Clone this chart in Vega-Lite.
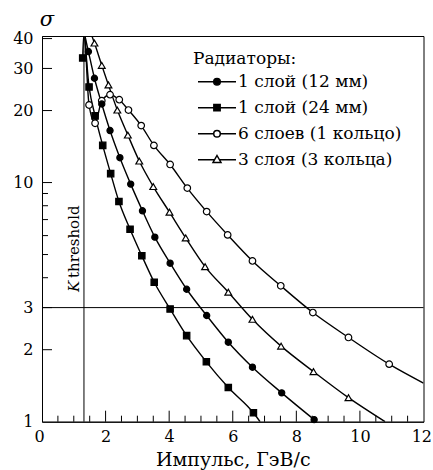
{
  "$schema": "https://vega.github.io/schema/vega-lite/v6.json",
  "width": 381.5,
  "height": 385.7,
  "autosize": {"type": "none"},
  "padding": {"left": 42, "top": 36, "right": 9.5, "bottom": 48.3},
  "background": "white",
  "config": {
    "view": {"stroke": "black", "strokeWidth": 1},
    "font": "DejaVu Serif",
    "axis": {
      "grid": false,
      "ticks": false,
      "domainColor": "black",
      "domainWidth": 1,
      "labelColor": "black",
      "labelFont": "DejaVu Serif",
      "labelFontSize": 16,
      "titleColor": "black",
      "titleFont": "DejaVu Serif",
      "titleFontWeight": "normal",
      "labelOverlap": false,
      "labelBound": false
    },
    "legend": {
      "titleFont": "DejaVu Serif",
      "titleFontWeight": "normal",
      "titleFontSize": 17,
      "titleColor": "black",
      "labelFont": "DejaVu Serif",
      "labelFontSize": 17,
      "labelColor": "black",
      "labelLimit": 0
    }
  },
  "datasets": {
    "curves": [
      {"series": "1 слой (12 мм)", "momentum": 1.35, "sigma": 41},
      {"series": "1 слой (12 мм)", "momentum": 1.46, "sigma": 35.3},
      {"series": "1 слой (12 мм)", "momentum": 1.65, "sigma": 27.3},
      {"series": "1 слой (12 мм)", "momentum": 1.88, "sigma": 21.3},
      {"series": "1 слой (12 мм)", "momentum": 2.14, "sigma": 16.5},
      {"series": "1 слой (12 мм)", "momentum": 2.45, "sigma": 12.7},
      {"series": "1 слой (12 мм)", "momentum": 2.79, "sigma": 9.85},
      {"series": "1 слой (12 мм)", "momentum": 3.16, "sigma": 7.62},
      {"series": "1 слой (12 мм)", "momentum": 3.55, "sigma": 5.91},
      {"series": "1 слой (12 мм)", "momentum": 4.03, "sigma": 4.6},
      {"series": "1 слой (12 мм)", "momentum": 4.55, "sigma": 3.58},
      {"series": "1 слой (12 мм)", "momentum": 5.18, "sigma": 2.78},
      {"series": "1 слой (12 мм)", "momentum": 5.86, "sigma": 2.15},
      {"series": "1 слой (12 мм)", "momentum": 6.62, "sigma": 1.69},
      {"series": "1 слой (12 мм)", "momentum": 7.54, "sigma": 1.32},
      {"series": "1 слой (12 мм)", "momentum": 8.56, "sigma": 1.02},
      {"series": "1 слой (24 мм)", "momentum": 1.31, "sigma": 41},
      {"series": "1 слой (24 мм)", "momentum": 1.28, "sigma": 33.2},
      {"series": "1 слой (24 мм)", "momentum": 1.48, "sigma": 25.1},
      {"series": "1 слой (24 мм)", "momentum": 1.67, "sigma": 19.0},
      {"series": "1 слой (24 мм)", "momentum": 1.91, "sigma": 14.3},
      {"series": "1 слой (24 мм)", "momentum": 2.16, "sigma": 10.9},
      {"series": "1 слой (24 мм)", "momentum": 2.42, "sigma": 8.33},
      {"series": "1 слой (24 мм)", "momentum": 2.77, "sigma": 6.38},
      {"series": "1 слой (24 мм)", "momentum": 3.14, "sigma": 4.94},
      {"series": "1 слой (24 мм)", "momentum": 3.53, "sigma": 3.83},
      {"series": "1 слой (24 мм)", "momentum": 4.03, "sigma": 2.96},
      {"series": "1 слой (24 мм)", "momentum": 4.55, "sigma": 2.29},
      {"series": "1 слой (24 мм)", "momentum": 5.17, "sigma": 1.78},
      {"series": "1 слой (24 мм)", "momentum": 5.86, "sigma": 1.39},
      {"series": "1 слой (24 мм)", "momentum": 6.65, "sigma": 1.09},
      {"series": "1 слой (24 мм)", "momentum": 6.86, "sigma": 1.0},
      {"series": "6 слоев (1 кольцо)", "momentum": 1.36, "sigma": 41},
      {"series": "6 слоев (1 кольцо)", "momentum": 1.48, "sigma": 21.1},
      {"series": "6 слоев (1 кольцо)", "momentum": 1.67, "sigma": 17.7},
      {"series": "6 слоев (1 кольцо)", "momentum": 1.88, "sigma": 22.0},
      {"series": "6 слоев (1 кольцо)", "momentum": 2.14, "sigma": 23.3},
      {"series": "6 слоев (1 кольцо)", "momentum": 2.43, "sigma": 22.2},
      {"series": "6 слоев (1 кольцо)", "momentum": 2.72, "sigma": 20.1},
      {"series": "6 слоев (1 кольцо)", "momentum": 3.12, "sigma": 17.3},
      {"series": "6 слоев (1 кольцо)", "momentum": 3.52, "sigma": 14.3},
      {"series": "6 слоев (1 кольцо)", "momentum": 4.03, "sigma": 11.9},
      {"series": "6 слоев (1 кольцо)", "momentum": 4.57, "sigma": 9.48},
      {"series": "6 слоев (1 кольцо)", "momentum": 5.18, "sigma": 7.56},
      {"series": "6 слоев (1 кольцо)", "momentum": 5.84, "sigma": 6.04},
      {"series": "6 слоев (1 кольцо)", "momentum": 6.62, "sigma": 4.7},
      {"series": "6 слоев (1 кольцо)", "momentum": 7.51, "sigma": 3.7},
      {"series": "6 слоев (1 кольцо)", "momentum": 8.52, "sigma": 2.86},
      {"series": "6 слоев (1 кольцо)", "momentum": 9.64, "sigma": 2.25},
      {"series": "6 слоев (1 кольцо)", "momentum": 10.92, "sigma": 1.74},
      {"series": "6 слоев (1 кольцо)", "momentum": 12.0, "sigma": 1.45},
      {"series": "3 слоя (3 кольца)", "momentum": 1.57, "sigma": 41},
      {"series": "3 слоя (3 кольца)", "momentum": 1.65, "sigma": 38.3},
      {"series": "3 слоя (3 кольца)", "momentum": 1.88, "sigma": 30.9},
      {"series": "3 слоя (3 кольца)", "momentum": 2.09, "sigma": 25.6},
      {"series": "3 слоя (3 кольца)", "momentum": 2.37, "sigma": 20.1},
      {"series": "3 слоя (3 кольца)", "momentum": 2.7, "sigma": 15.8},
      {"series": "3 слоя (3 кольца)", "momentum": 3.06, "sigma": 12.3},
      {"series": "3 слоя (3 кольца)", "momentum": 3.5, "sigma": 9.62},
      {"series": "3 слоя (3 кольца)", "momentum": 4.01, "sigma": 7.52},
      {"series": "3 слоя (3 кольца)", "momentum": 4.52, "sigma": 5.87},
      {"series": "3 слоя (3 кольца)", "momentum": 5.13, "sigma": 4.45},
      {"series": "3 слоя (3 кольца)", "momentum": 5.86, "sigma": 3.48},
      {"series": "3 слоя (3 кольца)", "momentum": 6.62, "sigma": 2.68},
      {"series": "3 слоя (3 кольца)", "momentum": 7.52, "sigma": 2.07},
      {"series": "3 слоя (3 кольца)", "momentum": 8.54, "sigma": 1.62},
      {"series": "3 слоя (3 кольца)", "momentum": 9.64, "sigma": 1.26},
      {"series": "3 слоя (3 кольца)", "momentum": 10.79, "sigma": 1.0}
    ],
    "points": [
      {"series": "6 слоев (1 кольцо)", "momentum": 1.48, "sigma": 21.1},
      {"series": "6 слоев (1 кольцо)", "momentum": 1.67, "sigma": 17.7},
      {"series": "6 слоев (1 кольцо)", "momentum": 1.88, "sigma": 22.0},
      {"series": "6 слоев (1 кольцо)", "momentum": 2.14, "sigma": 23.3},
      {"series": "6 слоев (1 кольцо)", "momentum": 2.43, "sigma": 22.2},
      {"series": "6 слоев (1 кольцо)", "momentum": 2.72, "sigma": 20.1},
      {"series": "6 слоев (1 кольцо)", "momentum": 3.12, "sigma": 17.3},
      {"series": "6 слоев (1 кольцо)", "momentum": 3.52, "sigma": 14.3},
      {"series": "6 слоев (1 кольцо)", "momentum": 4.03, "sigma": 11.9},
      {"series": "6 слоев (1 кольцо)", "momentum": 4.57, "sigma": 9.48},
      {"series": "6 слоев (1 кольцо)", "momentum": 5.18, "sigma": 7.56},
      {"series": "6 слоев (1 кольцо)", "momentum": 5.84, "sigma": 6.04},
      {"series": "6 слоев (1 кольцо)", "momentum": 6.62, "sigma": 4.7},
      {"series": "6 слоев (1 кольцо)", "momentum": 7.51, "sigma": 3.7},
      {"series": "6 слоев (1 кольцо)", "momentum": 8.52, "sigma": 2.86},
      {"series": "6 слоев (1 кольцо)", "momentum": 9.64, "sigma": 2.25},
      {"series": "6 слоев (1 кольцо)", "momentum": 10.92, "sigma": 1.74},
      {"series": "3 слоя (3 кольца)", "momentum": 1.65, "sigma": 38.3},
      {"series": "3 слоя (3 кольца)", "momentum": 1.88, "sigma": 30.9},
      {"series": "3 слоя (3 кольца)", "momentum": 2.09, "sigma": 25.6},
      {"series": "3 слоя (3 кольца)", "momentum": 2.37, "sigma": 20.1},
      {"series": "3 слоя (3 кольца)", "momentum": 2.7, "sigma": 15.8},
      {"series": "3 слоя (3 кольца)", "momentum": 3.06, "sigma": 12.3},
      {"series": "3 слоя (3 кольца)", "momentum": 3.5, "sigma": 9.62},
      {"series": "3 слоя (3 кольца)", "momentum": 4.01, "sigma": 7.52},
      {"series": "3 слоя (3 кольца)", "momentum": 4.52, "sigma": 5.87},
      {"series": "3 слоя (3 кольца)", "momentum": 5.13, "sigma": 4.45},
      {"series": "3 слоя (3 кольца)", "momentum": 5.86, "sigma": 3.48},
      {"series": "3 слоя (3 кольца)", "momentum": 6.62, "sigma": 2.68},
      {"series": "3 слоя (3 кольца)", "momentum": 7.52, "sigma": 2.07},
      {"series": "3 слоя (3 кольца)", "momentum": 8.54, "sigma": 1.62},
      {"series": "3 слоя (3 кольца)", "momentum": 9.64, "sigma": 1.26},
      {"series": "1 слой (12 мм)", "momentum": 1.46, "sigma": 35.3},
      {"series": "1 слой (12 мм)", "momentum": 1.65, "sigma": 27.3},
      {"series": "1 слой (12 мм)", "momentum": 1.88, "sigma": 21.3},
      {"series": "1 слой (12 мм)", "momentum": 2.14, "sigma": 16.5},
      {"series": "1 слой (12 мм)", "momentum": 2.45, "sigma": 12.7},
      {"series": "1 слой (12 мм)", "momentum": 2.79, "sigma": 9.85},
      {"series": "1 слой (12 мм)", "momentum": 3.16, "sigma": 7.62},
      {"series": "1 слой (12 мм)", "momentum": 3.55, "sigma": 5.91},
      {"series": "1 слой (12 мм)", "momentum": 4.03, "sigma": 4.6},
      {"series": "1 слой (12 мм)", "momentum": 4.55, "sigma": 3.58},
      {"series": "1 слой (12 мм)", "momentum": 5.18, "sigma": 2.78},
      {"series": "1 слой (12 мм)", "momentum": 5.86, "sigma": 2.15},
      {"series": "1 слой (12 мм)", "momentum": 6.62, "sigma": 1.69},
      {"series": "1 слой (12 мм)", "momentum": 7.54, "sigma": 1.32},
      {"series": "1 слой (12 мм)", "momentum": 8.56, "sigma": 1.02},
      {"series": "1 слой (24 мм)", "momentum": 1.28, "sigma": 33.2},
      {"series": "1 слой (24 мм)", "momentum": 1.48, "sigma": 25.1},
      {"series": "1 слой (24 мм)", "momentum": 1.67, "sigma": 19.0},
      {"series": "1 слой (24 мм)", "momentum": 1.91, "sigma": 14.3},
      {"series": "1 слой (24 мм)", "momentum": 2.16, "sigma": 10.9},
      {"series": "1 слой (24 мм)", "momentum": 2.42, "sigma": 8.33},
      {"series": "1 слой (24 мм)", "momentum": 2.77, "sigma": 6.38},
      {"series": "1 слой (24 мм)", "momentum": 3.14, "sigma": 4.94},
      {"series": "1 слой (24 мм)", "momentum": 3.53, "sigma": 3.83},
      {"series": "1 слой (24 мм)", "momentum": 4.03, "sigma": 2.96},
      {"series": "1 слой (24 мм)", "momentum": 4.55, "sigma": 2.29},
      {"series": "1 слой (24 мм)", "momentum": 5.17, "sigma": 1.78},
      {"series": "1 слой (24 мм)", "momentum": 5.86, "sigma": 1.39},
      {"series": "1 слой (24 мм)", "momentum": 6.65, "sigma": 1.09}
    ],
    "x_major_ticks": [
      {"momentum": 2}, {"momentum": 4}, {"momentum": 6}, {"momentum": 8}, {"momentum": 10}
    ],
    "x_minor_ticks": [
      {"momentum": 0.5}, {"momentum": 1}, {"momentum": 1.5}, {"momentum": 2.5}, {"momentum": 3}, {"momentum": 3.5},
      {"momentum": 4.5}, {"momentum": 5}, {"momentum": 5.5}, {"momentum": 6.5}, {"momentum": 7}, {"momentum": 7.5},
      {"momentum": 8.5}, {"momentum": 9}, {"momentum": 9.5}, {"momentum": 10.5}, {"momentum": 11}, {"momentum": 11.5}
    ],
    "y_major_ticks": [
      {"sigma": 2}, {"sigma": 3}, {"sigma": 10}, {"sigma": 20}, {"sigma": 30}, {"sigma": 40}
    ],
    "y_minor_ticks": [
      {"sigma": 4}, {"sigma": 5}, {"sigma": 6}, {"sigma": 7}, {"sigma": 8}, {"sigma": 9}
    ],
    "threshold_label": [
      {"part": "K", "momentum": 1.16, "sigma": 3.49},
      {"part": "threshold", "momentum": 1.16, "sigma": 3.99}
    ]
  },
  "layer": [
    {
      "data": {"name": "curves"},
      "mark": {"type": "line", "interpolate": "monotone", "stroke": "black", "strokeWidth": 1.4, "clip": true},
      "encoding": {
        "x": {
          "field": "momentum",
          "type": "quantitative",
          "scale": {"domain": [0, 12], "nice": false},
          "axis": {
            "orient": "bottom",
            "title": "Импульс, ГэВ/c",
            "titleFontSize": 19,
            "titleBaseline": "middle",
            "titleY": 37.5,
            "values": [0, 2, 4, 6, 8, 10, 12],
            "format": "d",
            "labelPadding": 7,
            "labelFlush": true,
            "labelFlushOffset": 8
          }
        },
        "y": {
          "field": "sigma",
          "type": "quantitative",
          "scale": {"type": "log", "domain": [1, 41], "nice": false},
          "axis": {
            "orient": "left",
            "title": "σ",
            "titleFontSize": 21,
            "titleFontStyle": "italic",
            "titleAngle": 0,
            "titleAlign": "center",
            "titleBaseline": "middle",
            "titleX": 4.5,
            "titleY": -17,
            "values": [1, 2, 3, 10, 20, 30, 40],
            "format": "d",
            "labelFlush": false,
            "labelPadding": 9
          }
        },
        "detail": {"field": "series", "type": "nominal"}
      }
    },
    {
      "data": {"name": "x_major_ticks"},
      "mark": {"type": "point", "shape": "M0,-1V1", "size": 484, "filled": false, "stroke": "black", "strokeWidth": 1, "opacity": 1, "clip": true},
      "encoding": {
        "x": {"field": "momentum", "type": "quantitative", "axis": null},
        "y": {"datum": 1, "type": "quantitative", "axis": null}
      }
    },
    {
      "data": {"name": "x_minor_ticks"},
      "mark": {"type": "point", "shape": "M0,-1V1", "size": 144, "filled": false, "stroke": "black", "strokeWidth": 1, "opacity": 1, "clip": true},
      "encoding": {
        "x": {"field": "momentum", "type": "quantitative", "axis": null},
        "y": {"datum": 1, "type": "quantitative", "axis": null}
      }
    },
    {
      "data": {"name": "y_major_ticks"},
      "mark": {"type": "point", "shape": "M-1,0H1", "size": 400, "filled": false, "stroke": "black", "strokeWidth": 1, "opacity": 1, "clip": true},
      "encoding": {
        "x": {"datum": 0, "type": "quantitative", "axis": null},
        "y": {"field": "sigma", "type": "quantitative", "axis": null}
      }
    },
    {
      "data": {"name": "y_minor_ticks"},
      "mark": {"type": "point", "shape": "M-1,0H1", "size": 144, "filled": false, "stroke": "black", "strokeWidth": 1, "opacity": 1, "clip": true},
      "encoding": {
        "x": {"datum": 0, "type": "quantitative", "axis": null},
        "y": {"field": "sigma", "type": "quantitative", "axis": null}
      }
    },
    {
      "data": {"values": [{}]},
      "mark": {"type": "rule", "stroke": "black", "strokeWidth": 1},
      "encoding": {"x": {"datum": 1.32, "type": "quantitative", "axis": null}}
    },
    {
      "data": {"values": [{}]},
      "mark": {"type": "rule", "stroke": "black", "strokeWidth": 1},
      "encoding": {"y": {"datum": 3, "type": "quantitative", "axis": null}}
    },
    {
      "data": {"name": "threshold_label"},
      "transform": [{"filter": "datum.part === 'K'"}],
      "mark": {"type": "text", "angle": 270, "align": "left", "baseline": "alphabetic", "font": "DejaVu Serif", "fontSize": 15, "fontStyle": "italic", "color": "black"},
      "encoding": {
        "x": {"field": "momentum", "type": "quantitative", "axis": null},
        "y": {"field": "sigma", "type": "quantitative", "axis": null},
        "text": {"field": "part"}
      }
    },
    {
      "data": {"name": "threshold_label"},
      "transform": [{"filter": "datum.part === 'threshold'"}],
      "mark": {"type": "text", "angle": 270, "align": "left", "baseline": "alphabetic", "font": "DejaVu Serif", "fontSize": 15, "color": "black"},
      "encoding": {
        "x": {"field": "momentum", "type": "quantitative", "axis": null},
        "y": {"field": "sigma", "type": "quantitative", "axis": null},
        "text": {"field": "part"}
      }
    },
    {
      "data": {"name": "points"},
      "mark": {"type": "point", "filled": true, "stroke": "black", "strokeWidth": 1.2, "opacity": 1},
      "encoding": {
        "x": {"field": "momentum", "type": "quantitative", "axis": null},
        "y": {"field": "sigma", "type": "quantitative", "axis": null},
        "shape": {
          "field": "series",
          "type": "nominal",
          "scale": {"domain": ["1 слой (12 мм)", "1 слой (24 мм)", "6 слоев (1 кольцо)", "3 слоя (3 кольца)"], "range": ["circle", "square", "circle", "triangle-up"]},
          "legend": null
        },
        "fill": {
          "field": "series",
          "type": "nominal",
          "scale": {"domain": ["1 слой (12 мм)", "1 слой (24 мм)", "6 слоев (1 кольцо)", "3 слоя (3 кольца)"], "range": ["black", "black", "white", "white"]},
          "legend": null
        },
        "size": {
          "field": "series",
          "type": "ordinal",
          "scale": {"domain": ["1 слой (12 мм)", "1 слой (24 мм)", "6 слоев (1 кольцо)", "3 слоя (3 кольца)"], "range": [38, 46, 40, 70]},
          "legend": null
        }
      }
    },
    {
      "data": {"name": "points"},
      "transform": [{"filter": "datum.sigma > 1000"}],
      "mark": {"type": "point", "filled": true, "stroke": "black", "strokeWidth": 1.2, "opacity": 1},
      "encoding": {
        "x": {"field": "momentum", "type": "quantitative", "axis": null},
        "y": {"field": "sigma", "type": "quantitative", "axis": null},
        "shape": {
          "field": "series",
          "type": "nominal",
          "scale": {
            "domain": ["1 слой (12 мм)", "1 слой (24 мм)", "6 слоев (1 кольцо)", "3 слоя (3 кольца)"],
            "range": [
              "M-5.43,0H-0.94M0.94,0H5.43M0.94,0A0.94,0.94,0,1,1,-0.94,0A0.94,0.94,0,1,1,0.94,0Z",
              "M-5.43,0H-0.9M0.9,0H5.43M-0.9,-0.9H0.9V0.9H-0.9Z",
              "M-5.43,0H-0.94M0.94,0H5.43M0.94,0A0.94,0.94,0,1,1,-0.94,0A0.94,0.94,0,1,1,0.94,0Z",
              "M-5.43,0H-0.68M0.68,0H5.43M0,-1.2L1.14,0.8L-1.14,0.8Z"
            ]
          },
          "legend": {
            "title": "Радиаторы:",
            "orient": "none",
            "legendX": 151,
            "legendY": 14.5,
            "padding": 0,
            "symbolSize": 49,
            "symbolOffset": 15.5,
            "labelOffset": 12.5,
            "labelLimit": 0,
            "rowPadding": 8,
            "titlePadding": 5.7,
            "encode": {
              "symbols": {
                "update": {
                  "stroke": {"value": "black"},
                  "strokeWidth": {"value": 1.2},
                  "opacity": {"value": 1}
                }
              }
            }
          }
        },
        "fill": {
          "field": "series",
          "type": "nominal",
          "scale": {"domain": ["1 слой (12 мм)", "1 слой (24 мм)", "6 слоев (1 кольцо)", "3 слоя (3 кольца)"], "range": ["black", "black", "white", "white"]}
        }
      }
    }
  ],
  "resolve": {
    "scale": {"shape": "independent", "fill": "independent", "size": "independent"},
    "axis": {"x": "independent", "y": "independent"}
  }
}
